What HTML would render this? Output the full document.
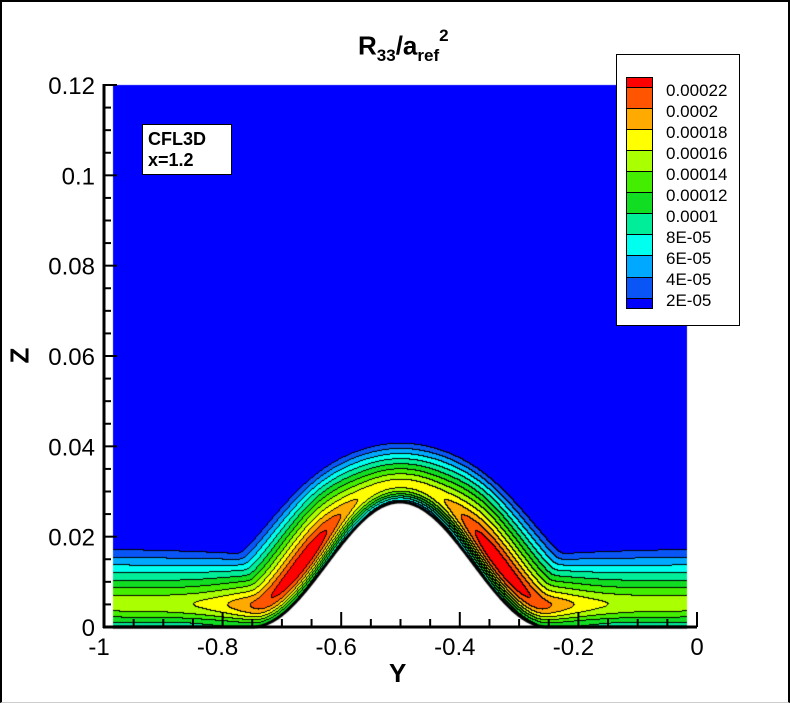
<!DOCTYPE html>
<html><head><meta charset="utf-8"><style>
html,body{margin:0;padding:0;background:#fff;}
#w{position:relative;width:790px;height:703px;overflow:hidden;font-family:"Liberation Sans",sans-serif;}
#frame{position:absolute;left:0;top:0;width:786px;height:700px;border:2px solid #000;border-bottom:1px solid #ccc;}
.t{position:absolute;font-size:21px;color:#000;white-space:nowrap;}
.lg{position:absolute;left:666px;font-size:17px;white-space:nowrap;line-height:17px;}
</style></head><body><div id="w">
<div id="frame"></div>
<canvas id="c" width="790" height="703" style="position:absolute;left:0;top:0"></canvas>
<svg width="790" height="703" style="position:absolute;left:0;top:0" id="ax"></svg>
<div class="t" style="left:358px;top:30px;font-weight:bold;font-size:26px">R<sub style="font-size:17px">33</sub>/a<sub style="font-size:17px">ref</sub><sup style="font-size:17px;position:relative;top:-4px">2</sup></div>
<div style="position:absolute;left:142px;top:124px;width:90px;height:51px;background:#fff;border:1px solid #000;font-weight:bold;font-size:18px;line-height:21px;padding:4px 0 0 5px;box-sizing:border-box">CFL3D<br>x=1.2</div>
<div style="position:absolute;left:616px;top:54px;width:124px;height:272px;background:#fff;border:1px solid #000;box-sizing:border-box"></div>
<div id="lgd"></div>
<div class="t" style="left:389px;top:658px;font-weight:bold;font-size:26px">Y</div>
<div class="t" style="left:12px;top:340px;font-weight:bold;font-size:26px;transform:rotate(-90deg)">Z</div>
</div>
<script>
var cols=["#0000ff","#0a55f5","#00a8ff","#00ffee","#00ee99","#11dd22","#44ee00","#aaff00","#ffff00","#ffaa00","#ff5500","#ff0000"];
var cv=document.getElementById('c'),ctx=cv.getContext('2d');
var X0=113,X1=687,Y0=85,Y1=627,W=X1-X0,Hh=Y1-Y0;
var HW=148,HT=125;
function hw(dx){return Math.abs(dx)<HW?HT*(0.5+0.5*Math.cos(Math.PI*dx/HW)):0;}
var wx=[],wz=[];
for(var x=X0-150;x<=X1+150;x+=1){wx.push(x);wz.push(hw(x-400));}
var V=new Float32Array(W*Hh),inside=new Uint8Array(W*Hh);
for(var py=0;py<Hh;py++)for(var px=0;px<W;px++){
 var X=X0+px,dx=X-400,z=Y1-(Y0+py),h=hw(dx);
 var dn=0;
 if(z<h){inside[py*W+px]=1;}
 else{
 var best=(z-h)*(z-h),lo=X-120-(X0-150),hi=X+120-(X0-150);
 for(var j=lo;j<=hi;j+=2){var ex=wx[j]-X,ez=wz[j]-z;var d2=ex*ex+ez*ez;if(d2<best)best=d2;}
 dn=Math.sqrt(best);}
 var a=Math.abs(dx);
 var A=0.000155+0.00009*(a<95?Math.exp(-Math.pow((a-95)/45,2)):Math.exp(-Math.pow((a-95)/75,2)))+0.00002*Math.exp(-Math.pow(dx/50,2));
 var wb=Math.exp(-Math.pow(dx/150,2));
 var del=79-20*wb;
 var s=dn/del,sp=0.34;
 var w0=0.45-0.35*Math.exp(-Math.pow(dx/130,2));
 var g=s<sp? w0+(1-w0)*Math.sin(Math.PI/2*s/sp) : Math.max(0,1-(s-sp)/0.758);
 V[py*W+px]=A*g;
}
function blur(r){
 var T=new Float32Array(W*Hh);
 for(var y=0;y<Hh;y++){for(var x=0;x<W;x++){var sm=0,n=0;for(var k=-r;k<=r;k++){var xx=x+k;if(xx<0||xx>=W)continue;sm+=V[y*W+xx];n++;}T[y*W+x]=sm/n;}}
 for(var x=0;x<W;x++){for(var y=0;y<Hh;y++){var sm=0,n=0;for(var k=-r;k<=r;k++){var yy=y+k;if(yy<0||yy>=Hh)continue;sm+=T[yy*W+x];n++;}V[y*W+x]=sm/n;}}
}
blur(4);blur(4);
var idx=new Int8Array(W*Hh);
for(var i=0;i<W*Hh;i++){if(inside[i]){idx[i]=-1;continue;}var k=Math.floor(V[i]/2e-5+1e-9);if(k>11)k=11;if(k<0)k=0;idx[i]=k;}
var img=ctx.createImageData(W,Hh);
function hex(c){return [parseInt(c.substr(1,2),16),parseInt(c.substr(3,2),16),parseInt(c.substr(5,2),16)];}
var rgb=cols.map(hex);
for(var i=0;i<W*Hh;i++){
 var k=idx[i],c;
 if(k<0)c=[255,255,255];else{
  var px=i%W,py=(i/W)|0;
  var edge=(px>0&&idx[i-1]>=0&&idx[i-1]!=k)||(py>0&&idx[i-W]>=0&&idx[i-W]!=k);
  c=edge?[0,0,0]:rgb[k];}
 img.data[4*i]=c[0];img.data[4*i+1]=c[1];img.data[4*i+2]=c[2];img.data[4*i+3]=255;
}
ctx.putImageData(img,X0,Y0);
ctx.beginPath();for(var x=X0;x<=X1;x++){var y=Y1-hw(x-400);if(x==X0)ctx.moveTo(x,y);else ctx.lineTo(x,y);}
ctx.lineWidth=3;ctx.strokeStyle="#000";ctx.stroke();
var s='<line x1="104" y1="84" x2="104" y2="628" stroke="#000" stroke-width="3"/><line x1="103" y1="627" x2="697" y2="627" stroke="#000" stroke-width="3"/>';
for(var i=0;i<=24;i++){var y=627-i*542/24,L=i%4==0?13:7;s+='<line x1="104" y1="'+y+'" x2="'+(104+L)+'" y2="'+y+'" stroke="#000" stroke-width="2"/>';}
for(var i=0;i<=20;i++){var x=104+i*593/20,L=i%4==0?15:8;s+='<line x1="'+x+'" y1="627" x2="'+x+'" y2="'+(627-L)+'" stroke="#000" stroke-width="2"/>';}
var yl=["0","0.02","0.04","0.06","0.08","0.1","0.12"];
for(var i=0;i<7;i++)s+='<text x="95" y="'+(627-i*90.33+9)+'" font-family="Liberation Sans" font-size="24" text-anchor="end">'+yl[i]+'</text>';
var xl=["-1","-0.8","-0.6","-0.4","-0.2","0"];
for(var i=0;i<6;i++)s+='<text x="'+(104+i*118.6-(i<5?5:0))+'" y="655" font-family="Liberation Sans" font-size="24" text-anchor="middle">'+xl[i]+'</text>';
document.getElementById('ax').innerHTML=s;
var lb=["0.00022","0.0002","0.00018","0.00016","0.00014","0.00012","0.0001","8E-05","6E-05","4E-05","2E-05"];
var bd=[77,87,108,129,150,171,192,213,234,255,277,298,308];
var h='';
for(var i=0;i<12;i++){h+='<div style="position:absolute;left:626px;top:'+bd[i]+'px;width:27px;height:'+(bd[i+1]-bd[i]+1)+'px;background:'+cols[11-i]+';border:1px solid #000;box-sizing:border-box"></div>';}
for(var i=0;i<11;i++)h+='<div class="lg" style="top:'+(82+i*21)+'px">'+lb[i]+'</div>';
document.getElementById('lgd').innerHTML=h;
</script></body></html>
